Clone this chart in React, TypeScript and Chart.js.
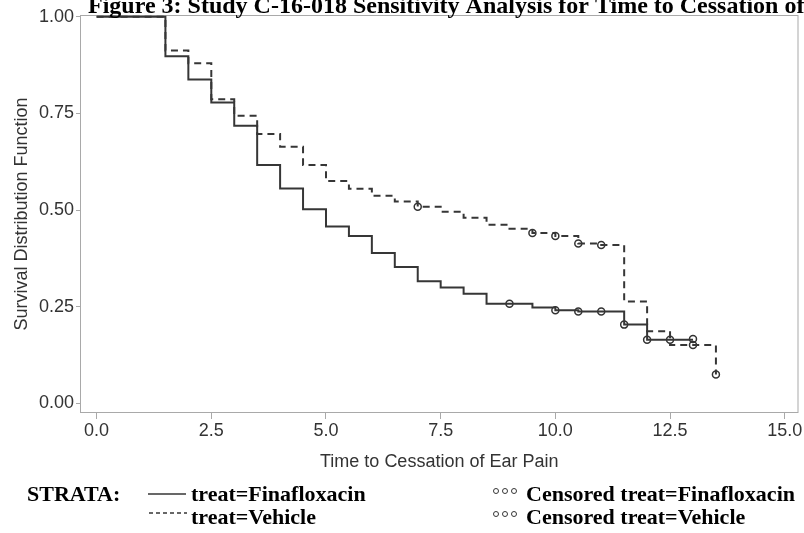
import React, { useEffect, useRef } from "react";
import { Chart, registerables } from "chart.js";

Chart.register(...registerables);

// ---- data ----
const finaTimes = [0, 1.5, 2.0, 2.5, 3.0, 3.5, 4.0, 4.5, 5.0, 5.5, 6.0, 6.5, 7.0, 7.5, 8.0, 8.5, 9.0, 9.5, 10.0, 10.5, 11.0, 11.5, 12.0, 12.5, 13.0];
const finaSurv = [1.0, 0.898, 0.838, 0.778, 0.718, 0.617, 0.556, 0.502, 0.458, 0.433, 0.389, 0.353, 0.316, 0.300, 0.284, 0.258, 0.258, 0.248, 0.241, 0.238, 0.238, 0.204, 0.165, 0.165, 0.165];
const finaCensorTimes = [9.0, 10.0, 10.5, 11.0, 11.5, 12.0, 12.5, 13.0];
const finaCensorSurv = [0.258, 0.241, 0.238, 0.238, 0.204, 0.165, 0.165, 0.167];

const vehTimes = [0, 1.5, 2.0, 2.5, 3.0, 3.5, 4.0, 4.5, 5.0, 5.5, 6.0, 6.5, 7.0, 7.5, 8.0, 8.5, 9.0, 9.5, 10.0, 10.5, 11.0, 11.5, 12.0, 12.5, 13.0, 13.5];
const vehSurv = [1.0, 0.913, 0.880, 0.787, 0.744, 0.697, 0.664, 0.617, 0.575, 0.555, 0.537, 0.522, 0.509, 0.496, 0.480, 0.462, 0.452, 0.441, 0.433, 0.414, 0.410, 0.264, 0.187, 0.151, 0.151, 0.075];
const vehCensorTimes = [7.0, 9.5, 10.0, 10.5, 11.0, 13.0, 13.5];
const vehCensorSurv = [0.509, 0.441, 0.433, 0.414, 0.410, 0.151, 0.075];

const xTicks = [0, 2.5, 5, 7.5, 10, 12.5, 15];
const yTicks = [0, 0.25, 0.5, 0.75, 1.0];

const titleText = "Figure 3: Study C-16-018 Sensitivity Analysis for Time to Cessation of";
const xTitle = "Time to Cessation of Ear Pain";
const yTitle = "Survival Distribution Function";
const strataLabel = "STRATA:";
const seriesNames = ["treat=Finafloxacin", "treat=Vehicle"];
const censorNames = ["Censored treat=Finafloxacin", "Censored treat=Vehicle"];

const LINE = "#363636";
const FRAME = "#a9a9a9";
const SANS = "'Liberation Sans', Arial, sans-serif";
const SERIF = "'Liberation Serif', 'Times New Roman', serif";

const pts = (xs: number[], ys: number[]) => xs.map((x, i) => ({ x, y: ys[i] }));

const decorPlugin = {
  id: "decor",
  beforeDatasetsDraw(chart: any) {
    const { ctx, chartArea } = chart;
    ctx.save();
    ctx.strokeStyle = FRAME;
    ctx.lineWidth = 1;
    ctx.strokeRect(chartArea.left + 0.5, chartArea.top + 0.5, chartArea.right - chartArea.left - 1, chartArea.bottom - chartArea.top - 1);
    ctx.restore();
  },
  afterDraw(chart: any) {
    const { ctx } = chart;
    ctx.save();
    // title (clipped at the top like the reference)
    ctx.fillStyle = "#000";
    ctx.font = `bold 24px ${SERIF}`;
    ctx.textBaseline = "alphabetic";
    ctx.textAlign = "left";
    ctx.fillText(titleText, 88, 13);

    // legend
    ctx.font = `bold 22px ${SERIF}`;
    ctx.textBaseline = "middle";
    const row1 = 495;
    const row2 = 518;
    ctx.fillText(strataLabel, 27, row1);

    ctx.strokeStyle = LINE;
    ctx.lineWidth = 1.5;
    ctx.beginPath();
    ctx.moveTo(148, row1 - 1);
    ctx.lineTo(186, row1 - 1);
    ctx.stroke();
    ctx.setLineDash([4, 3]);
    ctx.beginPath();
    ctx.moveTo(149, row2 - 5);
    ctx.lineTo(187, row2 - 5);
    ctx.stroke();
    ctx.setLineDash([]);

    ctx.fillText(seriesNames[0], 191, row1);
    ctx.fillText(seriesNames[1], 191, row2);

    [row1, row2].forEach((ry, i) => {
      ctx.lineWidth = 1;
      for (let k = 0; k < 3; k++) {
        ctx.beginPath();
        ctx.arc(496 + k * 9, ry - 4, 2.5, 0, Math.PI * 2);
        ctx.stroke();
      }
      ctx.fillText(censorNames[i], 526, ry);
    });
    ctx.restore();
  },
};

export default function App() {
  const ref = useRef<HTMLCanvasElement | null>(null);

  useEffect(() => {
    if (!ref.current) return;
    const chart = new Chart(ref.current, {
      type: "line",
      data: {
        datasets: [
          {
            label: seriesNames[0],
            data: pts(finaTimes, finaSurv),
            stepped: true,
            borderColor: LINE,
            borderWidth: 2,
            pointRadius: 0,
            fill: false,
          },
          {
            label: seriesNames[1],
            data: pts(vehTimes, vehSurv),
            stepped: true,
            borderColor: LINE,
            borderWidth: 2,
            borderDash: [7, 5],
            pointRadius: 0,
            fill: false,
          },
          {
            label: censorNames[0],
            data: pts(finaCensorTimes, finaCensorSurv),
            showLine: false,
            pointRadius: 3.5,
            pointBorderWidth: 1.5,
            pointBorderColor: "#333",
            pointBackgroundColor: "rgba(0,0,0,0)",
          },
          {
            label: censorNames[1],
            data: pts(vehCensorTimes, vehCensorSurv),
            showLine: false,
            pointRadius: 3.5,
            pointBorderWidth: 1.5,
            pointBorderColor: "#333",
            pointBackgroundColor: "rgba(0,0,0,0)",
          },
        ],
      },
      options: {
        animation: false,
        responsive: false,
        maintainAspectRatio: false,
        layout: { padding: { top: 15, right: 2, left: 0, bottom: 0 } },
        plugins: { legend: { display: false }, title: { display: false }, tooltip: { enabled: false } },
        scales: {
          x: {
            type: "linear",
            min: -0.362,
            max: 15.3,
            afterBuildTicks: (s: any) => {
              s.ticks = xTicks.map((v) => ({ value: v }));
            },
            afterFit: (s: any) => {
              s.height = 120;
              s.paddingLeft = 0;
              s.paddingRight = 0;
            },
            border: { display: false },
            grid: { drawOnChartArea: false, drawTicks: true, tickLength: 6, color: FRAME },
            ticks: {
              padding: 1,
              color: "#333",
              font: { family: SANS, size: 18 },
              maxRotation: 0,
              autoSkip: false,
              callback: (v: any) => Number(v).toFixed(1),
            },
            title: {
              display: true,
              text: xTitle,
              color: "#333",
              font: { family: SANS, size: 18 },
              padding: { top: 0, bottom: 60 },
            },
          },
          y: {
            type: "linear",
            min: -0.0245,
            max: 1.0045,
            afterBuildTicks: (s: any) => {
              s.ticks = yTicks.map((v) => ({ value: v }));
            },
            afterFit: (s: any) => {
              s.width = 80;
              s.paddingTop = 0;
              s.paddingBottom = 0;
            },
            border: { display: false },
            grid: { drawOnChartArea: false, drawTicks: true, tickLength: 4, color: FRAME },
            ticks: {
              padding: 2,
              color: "#333",
              font: { family: SANS, size: 18 },
              autoSkip: false,
              callback: (v: any) => Number(v).toFixed(2),
            },
            title: {
              display: true,
              text: yTitle,
              color: "#333",
              font: { family: SANS, size: 18 },
              padding: { top: 11, bottom: 0 },
            },
          },
        },
      },
      plugins: [decorPlugin],
    } as any);
    return () => chart.destroy();
  }, []);

  return (
    <div style={{ position: "absolute", left: 0, top: 0, width: 804, height: 533, background: "#fff" }}>
      <canvas ref={ref} width={804} height={533} style={{ width: 804, height: 533, display: "block" }} />
    </div>
  );
}
